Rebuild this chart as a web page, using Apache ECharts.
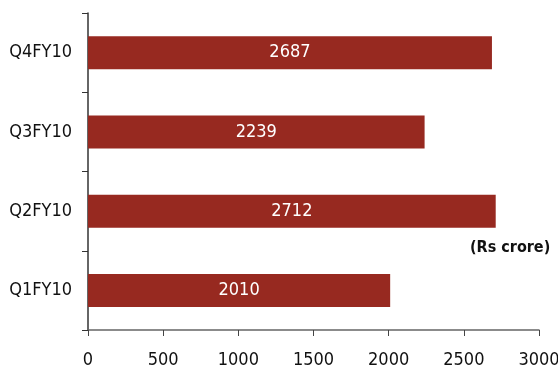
<!DOCTYPE html>
<html>
<head>
<meta charset="utf-8">
<script src="https://cdn.jsdelivr.net/npm/echarts@6/dist/echarts.min.js"></script>
<style>
  html, body { margin: 0; padding: 0; background: #fff; }
  #chart { width: 558px; height: 370px; }
</style>
</head>
<body>
<div id="chart"></div>
<script>
// Quarterly figures, Rs crore
const categories = ['Q1FY10', 'Q2FY10', 'Q3FY10', 'Q4FY10'];
const values = [2010, 2712, 2239, 2687];
const unitLabel = '(Rs crore)';

const FONT = '"DejaVu Sans Condensed", "Liberation Sans Narrow", sans-serif';
const chart = echarts.init(document.getElementById('chart'), null, { renderer: 'canvas' });

chart.setOption({
  animation: false,
  backgroundColor: '#ffffff',
  grid: { left: 88, right: 19, top: 13, bottom: 40, containLabel: false, outerBoundsMode: 'none' },
  xAxis: {
    type: 'value',
    min: 0,
    max: 3000,
    interval: 500,
    axisLine: { show: true, lineStyle: { color: '#666', width: 1.5 } },
    axisTick: { show: true, length: 6, lineStyle: { color: '#444' } },
    splitLine: { show: false },
    axisLabel: {
      color: '#111', fontSize: 18, fontFamily: FONT, margin: 21,
      formatter: v => String(v)
    }
  },
  yAxis: {
    type: 'category',
    data: categories,
    axisLine: { show: true, lineStyle: { color: '#333', width: 1.5 } },
    axisTick: { show: true, length: 6, alignWithLabel: false, lineStyle: { color: '#333' } },
    axisLabel: { color: '#111', fontSize: 18, fontFamily: FONT, margin: 16 }
  },
  series: [{
    type: 'bar',
    data: values,
    barWidth: 33,
    itemStyle: { color: '#972920' },
    label: {
      show: true,
      position: 'inside',
      color: '#ffffff',
      fontSize: 18,
      fontFamily: FONT
    }
  }],
  graphic: [{
    type: 'text',
    left: 470,
    top: 240,
    style: {
      text: unitLabel,
      fill: '#111',
      font: 'bold 16px ' + FONT
    }
  }]
});
</script>
</body>
</html>
